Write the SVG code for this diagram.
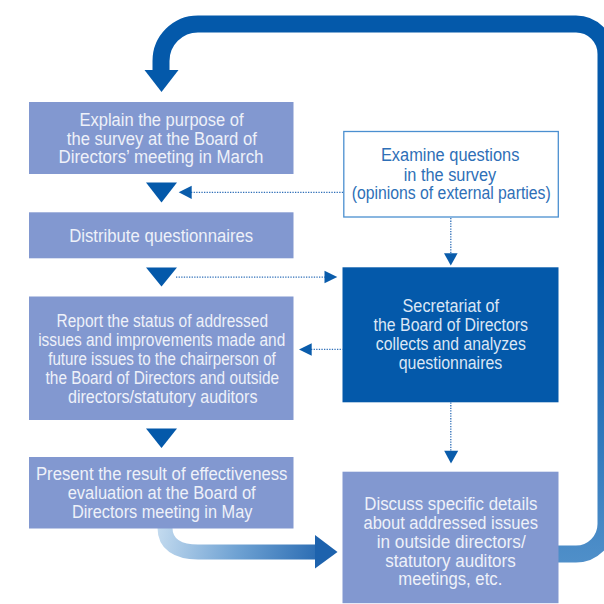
<svg xmlns="http://www.w3.org/2000/svg" width="604" height="604" viewBox="0 0 604 604">
<style>
.box{fill:#8298d0}
.dark{fill:#0459aa}
.t{font-family:"Liberation Sans",Arial,sans-serif;font-size:17.5px;text-anchor:middle}
.lt{fill:#eef1f9}
.dt{fill:#dbe6f5}
.bt{fill:#2e6fb7}
.tri{fill:#0459aa}
.dot{stroke:#2f6fb8;stroke-width:1.3;stroke-dasharray:1.3 1.3;fill:none}
.ah{fill:#0a5cab}
</style>
<defs>
<linearGradient id="loopG" gradientUnits="userSpaceOnUse" x1="0" y1="260" x2="0" y2="562">
<stop offset="0" stop-color="#0459aa"/>
<stop offset="1" stop-color="#4f8fc9"/>
</linearGradient>
<linearGradient id="curveG" gradientUnits="userSpaceOnUse" x1="158" y1="525" x2="338" y2="560">
<stop offset="0" stop-color="#c4dbef"/>
<stop offset="0.45" stop-color="#6fa2d3"/>
<stop offset="1" stop-color="#1a5fab"/>
</linearGradient>
</defs>
<g id="connectors">
<path d="M 556 554 H 576 A 30 30 0 0 0 606 524 V 54 A 30 30 0 0 0 576 24 H 198 A 37 37 0 0 0 161 61 V 72" fill="none" stroke="url(#loopG)" stroke-width="17"/>
<polygon points="144.5,70 178.5,70 161.5,92" class="tri"/>
<polygon points="146,182.5 177,182.5 161.5,202.5" class="tri"/>
<polygon points="146,267.5 177,267.5 161.5,286.5" class="tri"/>
<polygon points="146,428.5 177,428.5 161.5,448" class="tri"/>
<line x1="191" y1="192.3" x2="343.5" y2="192.3" class="dot"/>
<polygon points="178.7,192.3 191.7,185.7 191.7,199" class="ah"/>
<line x1="176" y1="277.2" x2="325" y2="277.2" class="dot"/>
<polygon points="337.3,277 324.5,270.7 324.5,283.3" class="ah"/>
<line x1="450.8" y1="218" x2="450.8" y2="254" class="dot"/>
<polygon points="444,253.3 457.6,253.3 450.8,265.5" class="ah"/>
<line x1="311" y1="349.3" x2="342.5" y2="349.3" class="dot"/>
<polygon points="299,349.5 311.7,343.3 311.7,355.7" class="ah"/>
<line x1="450.8" y1="402.5" x2="450.8" y2="451" class="dot"/>
<polygon points="444.2,450.7 458.2,450.7 451,463.5" class="ah"/>
<path d="M 165 528 C 165 544 177 552 198 552 H 316" fill="none" stroke="url(#curveG)" stroke-width="15"/>
<polygon points="315,535 337.5,552 315,568.5" fill="#1d62ad"/>
</g>
<g id="explain">
<rect x="29" y="102" width="264.5" height="72" class="box"/>
<text class="t lt" x="161.5" y="126" textLength="164" lengthAdjust="spacingAndGlyphs">Explain the purpose of</text>
<text class="t lt" x="161.8" y="144.5" textLength="190" lengthAdjust="spacingAndGlyphs">the survey at the Board of</text>
<text class="t lt" x="161" y="163.3" textLength="205" lengthAdjust="spacingAndGlyphs">Directors’ meeting in March</text>
</g>
<g id="distribute">
<rect x="29" y="212.3" width="264.5" height="46" class="box"/>
<text class="t lt" x="161.2" y="241.7" textLength="184" lengthAdjust="spacingAndGlyphs">Distribute questionnaires</text>
</g>
<g id="report">
<rect x="29" y="296.5" width="264.5" height="123.5" class="box"/>
<text class="t lt" x="162.3" y="327.3" textLength="211.5" lengthAdjust="spacingAndGlyphs">Report the status of addressed</text>
<text class="t lt" x="161.7" y="345.8" textLength="247" lengthAdjust="spacingAndGlyphs">issues and improvements made and</text>
<text class="t lt" x="162" y="365" textLength="227.5" lengthAdjust="spacingAndGlyphs">future issues to the chairperson of</text>
<text class="t lt" x="162.3" y="384.3" textLength="233.5" lengthAdjust="spacingAndGlyphs">the Board of Directors and outside</text>
<text class="t lt" x="162.7" y="403.3" textLength="189.5" lengthAdjust="spacingAndGlyphs">directors/statutory auditors</text>
</g>
<g id="present">
<rect x="29" y="457" width="264.5" height="71.5" class="box"/>
<text class="t lt" x="161.7" y="480.3" textLength="251.5" lengthAdjust="spacingAndGlyphs">Present the result of effectiveness</text>
<text class="t lt" x="161.7" y="499.3" textLength="188" lengthAdjust="spacingAndGlyphs">evaluation at the Board of</text>
<text class="t lt" x="162.2" y="518.3" textLength="180.5" lengthAdjust="spacingAndGlyphs">Directors meeting in May</text>
</g>
<g id="examine">
<rect x="343.8" y="131.5" width="214.5" height="85.5" fill="#ffffff" stroke="#4b8fd0" stroke-width="1.3"/>
<text class="t bt" x="450.2" y="160.7" textLength="138.5" lengthAdjust="spacingAndGlyphs">Examine questions</text>
<text class="t bt" x="450" y="181" textLength="92.5" lengthAdjust="spacingAndGlyphs">in the survey</text>
<text class="t bt" x="451.2" y="199.3" textLength="199" lengthAdjust="spacingAndGlyphs">(opinions of external parties)</text>
</g>
<g id="secretariat">
<rect x="342.5" y="267.3" width="216" height="135" class="dark"/>
<text class="t dt" x="450.8" y="312" textLength="96.5" lengthAdjust="spacingAndGlyphs">Secretariat of</text>
<text class="t dt" x="450.8" y="331" textLength="154.5" lengthAdjust="spacingAndGlyphs">the Board of Directors</text>
<text class="t dt" x="450.8" y="349.5" textLength="150" lengthAdjust="spacingAndGlyphs">collects and analyzes</text>
<text class="t dt" x="450.5" y="369" textLength="103.5" lengthAdjust="spacingAndGlyphs">questionnaires</text>
</g>
<g id="discuss">
<rect x="342.5" y="471.7" width="216" height="131.5" class="box"/>
<text class="t lt" x="450.8" y="510" textLength="173" lengthAdjust="spacingAndGlyphs">Discuss specific details</text>
<text class="t lt" x="450.7" y="528.5" textLength="174.5" lengthAdjust="spacingAndGlyphs">about addressed issues</text>
<text class="t lt" x="451.2" y="547.5" textLength="149" lengthAdjust="spacingAndGlyphs">in outside directors/</text>
<text class="t lt" x="450.5" y="566.5" textLength="130.5" lengthAdjust="spacingAndGlyphs">statutory auditors</text>
<text class="t lt" x="450.3" y="585" textLength="104" lengthAdjust="spacingAndGlyphs">meetings, etc.</text>
</g>
</svg>
